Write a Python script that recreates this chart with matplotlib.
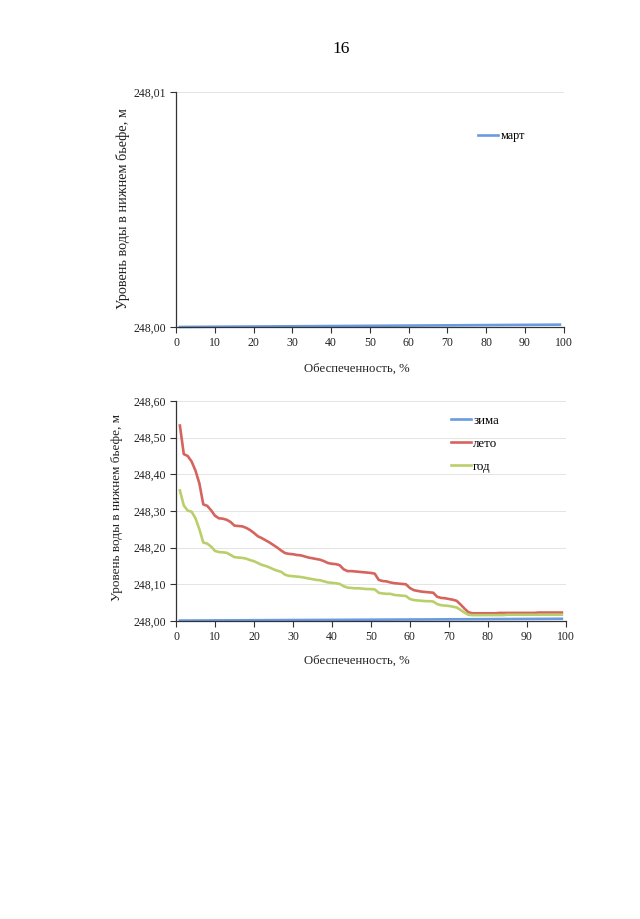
import numpy as np
import matplotlib
matplotlib.use('Agg')
import matplotlib.pyplot as plt
from matplotlib.ticker import FuncFormatter

plt.rcParams['font.family'] = ['Liberation Serif', 'DejaVu Serif']

####################
# Data read from the scanned page

x_pct = list(range(1, 100))

leto = [248.533, 248.455, 248.450, 248.435, 248.410, 248.375, 248.318, 248.314, 248.302, 248.287,
        248.280, 248.279, 248.276, 248.270, 248.260, 248.259, 248.258, 248.254, 248.248, 248.240,
        248.231, 248.226, 248.220, 248.214, 248.207, 248.200, 248.192, 248.185, 248.183, 248.182,
        248.180, 248.179, 248.176, 248.173, 248.171, 248.169, 248.167, 248.163, 248.158, 248.156,
        248.155, 248.152, 248.141, 248.136, 248.136, 248.135, 248.134, 248.133, 248.132, 248.131,
        248.129, 248.112, 248.109, 248.108, 248.105, 248.103, 248.102, 248.101, 248.100, 248.090,
        248.084, 248.082, 248.080, 248.079, 248.078, 248.077, 248.066, 248.063, 248.062, 248.060,
        248.058, 248.055, 248.045, 248.034, 248.024, 248.021, 248.021, 248.021, 248.021, 248.021,
        248.021, 248.021, 248.022, 248.022, 248.022, 248.022, 248.022, 248.022, 248.022, 248.022,
        248.022, 248.022, 248.023, 248.023, 248.023, 248.023, 248.023, 248.023, 248.023]

god = [248.356, 248.315, 248.301, 248.298, 248.280, 248.250, 248.214, 248.211, 248.203, 248.191,
       248.188, 248.187, 248.186, 248.180, 248.174, 248.173, 248.172, 248.170, 248.166, 248.163,
       248.158, 248.153, 248.150, 248.146, 248.141, 248.137, 248.134, 248.126, 248.123, 248.122,
       248.121, 248.120, 248.118, 248.116, 248.114, 248.112, 248.111, 248.108, 248.105, 248.104,
       248.103, 248.101, 248.095, 248.091, 248.090, 248.089, 248.089, 248.088, 248.087, 248.087,
       248.086, 248.077, 248.075, 248.074, 248.074, 248.071, 248.070, 248.069, 248.068, 248.060,
       248.057, 248.056, 248.055, 248.054, 248.054, 248.053, 248.046, 248.043, 248.042, 248.041,
       248.039, 248.037, 248.030, 248.023, 248.017, 248.016, 248.016, 248.016, 248.016, 248.016,
       248.016, 248.016, 248.016, 248.016, 248.017, 248.017, 248.017, 248.017, 248.017, 248.017,
       248.017, 248.017, 248.017, 248.017, 248.017, 248.017, 248.017, 248.017, 248.017]

x_flat = [1, 10, 20, 30, 40, 50, 60, 70, 80, 90, 99]
zima = [248.0010, 248.0015, 248.0020, 248.0025, 248.0030, 248.0035,
        248.0040, 248.0045, 248.0050, 248.0055, 248.0060]
mart = [248.00000, 248.00001, 248.00002, 248.00003, 248.00004, 248.00005,
        248.00006, 248.00007, 248.00008, 248.00009, 248.00010]

ticks_top = [248.00, 248.01]
ticks_bot = [248.00, 248.10, 248.20, 248.30, 248.40, 248.50, 248.60]
ticks_x = list(range(0, 101, 10))

c_blue = '#6a9be0'
c_red = '#d6645e'
c_green = '#b9cf6a'

####################
# Plotting

fig = plt.figure(figsize=(6.4, 9.19), dpi=100)
fig.text(0.533, 0.947, '16', ha='center', va='center', fontsize=12.5)

comma = FuncFormatter(lambda v, p: ('%.2f' % v).replace('.', ','))


def style(ax, yt, ylab_size):
    ax.set_xlim(0, 100)
    ax.set_xticks(ticks_x)
    ax.set_yticks(yt)
    ax.set_ylim(yt[0], yt[-1])
    ax.yaxis.set_major_formatter(comma)
    for s in ['top', 'right']:
        ax.spines[s].set_visible(False)
    for s in ['left', 'bottom']:
        ax.spines[s].set_color('#333333')
        ax.spines[s].set_linewidth(0.9)
    ax.tick_params(direction='out', length=4, width=0.8, colors='#333333',
                   labelsize=8.5, labelcolor='#222222', pad=3)
    ax.grid(axis='y', color='#e4e4e4', linewidth=0.7)
    ax.set_axisbelow(True)
    ax.set_xlabel('Обеспеченность, %', fontsize=9.2, color='#222222')
    ax.set_ylabel('Уровень воды в нижнем бьефе, м', fontsize=ylab_size, color='#222222')


ax1 = fig.add_axes([0.275, 0.6442, 0.606, 0.2557])
style(ax1, ticks_top, 10.3)
ax1.plot(x_flat, mart, color=c_blue, lw=1.9, label='март', clip_on=False)
ax1.legend(loc='upper left', bbox_to_anchor=(0.765, 0.86), frameon=False,
           fontsize=8.8, handlelength=1.7, handletextpad=0.2, borderaxespad=0)
ax1.yaxis.set_label_coords(-0.118, 0.502)
ax1.xaxis.set_label_coords(0.466, -0.153)

ax2 = fig.add_axes([0.275, 0.3243, 0.609, 0.2394])
style(ax2, ticks_bot, 9.5)
ax2.plot(x_flat, zima, color=c_blue, lw=1.9, label='зима', clip_on=False)
ax2.plot(x_pct, leto, color=c_red, lw=1.9, label='лето')
ax2.plot(x_pct, god, color=c_green, lw=1.9, label='год')
ax2.legend(loc='upper left', bbox_to_anchor=(0.693, 0.96), frameon=False,
           fontsize=9.3, handlelength=1.5, handletextpad=0.2, borderaxespad=0,
           labelspacing=0.85)
ax2.yaxis.set_label_coords(-0.136, 0.518)
ax2.xaxis.set_label_coords(0.464, -0.155)

fig.savefig('out.png', dpi=100, facecolor='white')
